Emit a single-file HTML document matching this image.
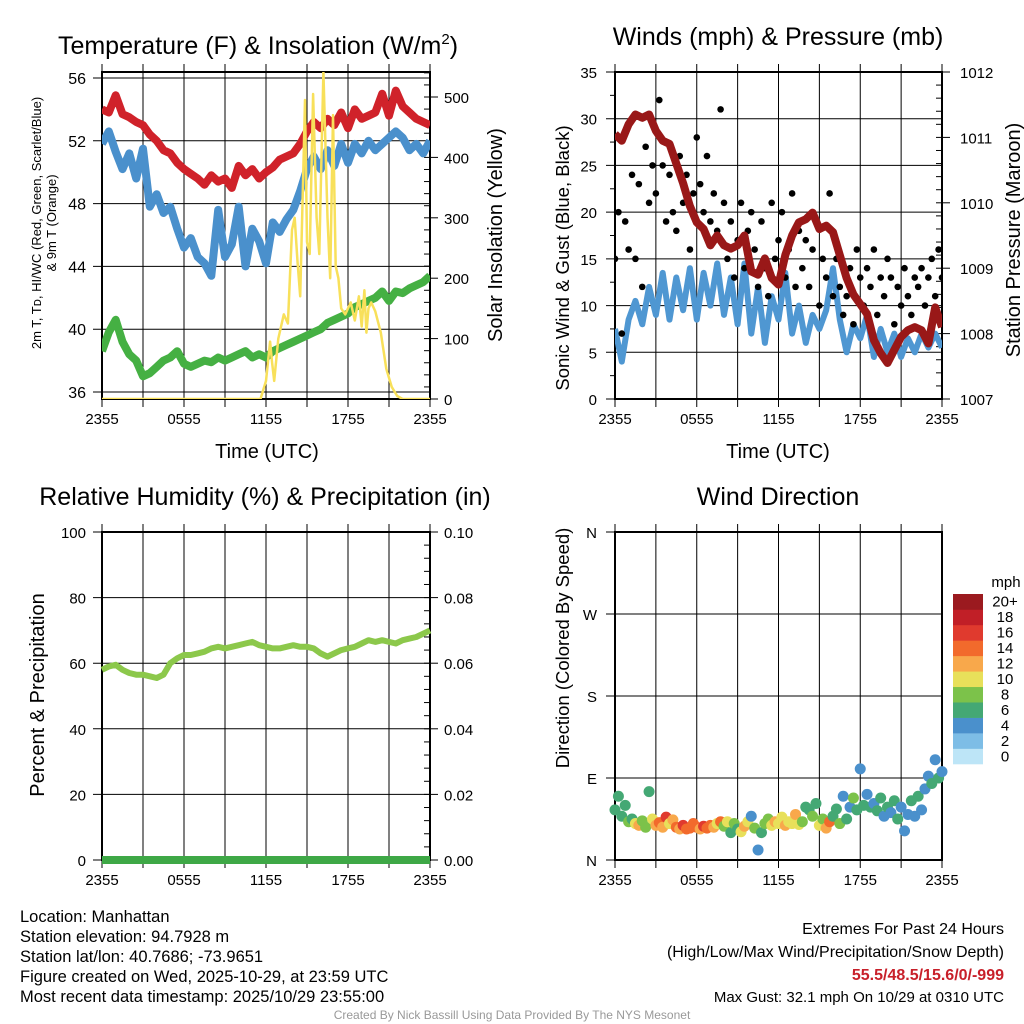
<!DOCTYPE html>
<html><head><meta charset="utf-8"><style>
html,body{margin:0;padding:0;background:#fff;}
svg{display:block;font-family:"Liberation Sans",sans-serif;}
</style></head><body>
<svg id="s" width="1024" height="1024" viewBox="0 0 1024 1024"></svg>
<script>
// ---------- DATA ----------
const xTickLabels = ["2355","0555","1155","1755","2355"];
const hours30 = Array.from({length:49},(_,i)=>i*0.5);
const tempRed = [54.0,53.8,54.9,53.7,53.5,53.2,53.0,52.4,52.0,51.4,51.2,50.6,50.2,49.9,49.6,49.2,49.8,49.4,49.6,49.0,50.4,49.8,50.2,49.6,50.0,50.3,50.8,51.0,51.2,51.8,52.6,53.2,52.8,53.4,53.0,53.8,52.8,54.0,53.4,53.6,53.8,55.0,53.6,55.2,54.2,53.8,53.4,53.2,53.0];
const heatBlue = [51.8,52.6,51.3,50.2,51.2,49.6,51.5,47.8,48.6,47.4,47.8,46.4,45.2,45.8,44.6,44.2,43.4,47.6,44.6,45.4,47.8,44.0,46.4,45.6,44.2,46.8,46.2,47.0,47.6,48.8,50.2,51.0,50.2,51.4,50.4,51.8,50.6,51.8,51.2,52.0,51.4,51.8,52.2,52.6,52.2,51.4,51.8,51.2,52.0];
const dewGreen = [38.6,39.8,40.6,39.2,38.4,38.0,37.0,37.2,37.6,38.0,38.2,38.6,37.8,37.6,37.8,38.0,37.9,38.2,38.0,38.2,38.4,38.6,38.2,38.4,38.2,38.6,38.8,39.0,39.2,39.4,39.6,39.8,40.0,40.4,40.6,40.8,41.0,41.4,41.6,41.8,42.0,42.4,41.8,42.4,42.3,42.6,42.8,43.0,43.4];
const solarT = [0,11,11.6,12,12.3,12.45,12.6,12.9,13.3,13.6,13.9,14.1,14.3,14.5,14.7,14.85,15.0,15.2,15.45,15.7,15.9,16.2,16.5,16.7,16.9,17.1,17.3,17.5,17.8,18.2,18.5,18.8,19.0,19.2,19.35,19.5,19.7,20.0,20.4,20.8,21.2,21.6,22,24];
const solarW = [0,0,0,30,95,60,30,100,140,125,280,300,230,170,350,495,260,240,505,300,240,542,300,200,470,220,200,150,140,160,130,170,120,180,110,150,160,145,110,50,20,5,0,0];
const tempTicks = [36,40,44,48,52,56];
const solarTicks = [0,100,200,300,400,500];

const windSpeed = [7.5,4.0,8.5,10.5,8.0,12.0,9.0,13.5,8.5,13.0,9.5,14.0,8.5,13.5,10.0,14.5,9.0,13.0,8.0,14.5,7.0,12.0,6.0,11.0,8.5,13.5,7.0,10.0,6.0,9.0,7.5,9.5,14.0,8.5,5.0,8.0,6.5,9.0,4.5,7.5,5.0,7.0,4.5,6.5,5.0,7.0,5.5,7.0,5.5];
const hours15 = Array.from({length:97},(_,i)=>i*0.25);
const gust = [15,20,7,19,16,24,15,23,12,
 27,21,25,22,32,25,19,24,
 20,18,26,21,24,16,22,28,
 23,20,26,19,22,18,31,21,
 15,19,13,17,21,14,18,20,
 16,12,19,14,11,21,15,17,
 20,13,16,22,12,18,14,17,
 12,16,19,10,15,13,22,11,
 15,12,9,11,14,8,16,13,
 10,14,12,16,9,13,11,15,
 13,8,12,10,14,11,9,13,
 12,14,10,13,15,11,16,13];
const pressure = [1011.05,1010.95,1011.2,1011.35,1011.3,1011.35,1011.1,1010.95,1010.9,1010.6,1010.3,1009.95,1009.7,1009.6,1009.35,1009.5,1009.35,1009.3,1009.35,1009.5,1008.95,1008.9,1009.15,1008.85,1008.75,1009.2,1009.5,1009.7,1009.75,1009.85,1009.6,1009.65,1009.55,1009.2,1008.85,1008.6,1008.45,1008.3,1007.9,1007.7,1007.55,1007.75,1007.95,1008.05,1008.1,1008.05,1007.85,1008.4,1008.1];
const windTicks = [0,5,10,15,20,25,30,35];
const presTicks = [1007,1008,1009,1010,1011,1012];

const humidity = [58,59,59.5,58,57,56.5,56.5,56,55.5,56.5,60,61.5,62.5,62.5,63,63.5,64.5,65,64.5,65,65.5,66,66.5,65.5,65,64.5,64.5,65,65.5,65,65,64.5,63,62,63,64,64.5,65,66,67,66.5,67,66.5,66,67,67.5,68,69,70];
const precip = Array.from({length:49},()=>0);
const rhTicks = [0,20,40,60,80,100];
const precipTicks = ["0.00","0.02","0.04","0.06","0.08","0.10"];

const windDir = [55,70,48,60,42,45,40,38,43,36,75,45,38,41,36,47,40,44,36,34,38,34,35,40,36,34,37,35,38,36,40,42,37,42,30,40,34,31,37,42,48,35,11,30,40,45,38,42,40,47,38,42,40,50,39,42,58,55,48,62,38,45,35,42,48,56,40,70,45,58,68,55,100,60,72,58,62,54,68,48,58,52,65,45,58,32,50,65,48,70,55,78,92,84,110,90,97];
const dirSpeed = [6,6,7,6,8,7,10,12,8,9,6,10,12,14,12,16,
 10,12,14,13,16,14,14,15,14,12,16,15,14,12,10,14,
 8,10,6,8,7,10,12,10,4,8,4,6,8,9,10,12,
 10,11,12,10,11,12,10,8,6,7,8,6,10,8,12,14,
 7,6,8,4,6,5,8,6,4,7,5,6,4,7,6,5,
 6,4,6,7,4,4,5,6,4,6,4,5,4,6,4,6,5];
const dirTicks = ["N","E","S","W","N"];
const speedBins = ["0","2","4","6","8","10","12","14","16","18","20+"];
const speedColors = ["#bde5f7","#7dbde6","#4a90cc","#44a874","#7cc24a","#e8e05a","#f8a84b","#f26a2c","#e03a2e","#c11f27","#9b1a1f"];

// ---------- HELPERS ----------
const NS="http://www.w3.org/2000/svg";
const svg=document.getElementById('s');
function mk(tag,attrs,parent){const e=document.createElementNS(NS,tag);for(const k in attrs)e.setAttribute(k,attrs[k]);(parent||svg).appendChild(e);return e;}
function txt(str,x,y,size,anchor,parent,extra){const t=mk('text',Object.assign({x:x,y:y,'font-size':size,'text-anchor':anchor||'middle',fill:'#000'},extra||{}),parent);t.textContent=str;return t;}
function lin(d0,d1,r0,r1){return v=>r0+(v-d0)*(r1-r0)/(d1-d0);}
function pathFrom(xs,ys,sx,sy){let d='';for(let i=0;i<Math.min(xs.length,ys.length);i++){d+=(i?'L':'M')+sx(xs[i]).toFixed(1)+','+sy(ys[i]).toFixed(1);}return d;}

function panel(name){
  const g=mk('g',{},svg);
  
  
  return g;
}
function frame(g,L,R,T,B,sx,hLines,rightMinor){
  for(let h=3;h<24;h+=3){const x=sx(h);const l=mk('line',{x1:x,x2:x,y1:T,y2:B,stroke:'#000','stroke-width':1},g);
    }
  hLines.forEach(y=>{const l=mk('line',{x1:L-9,x2:R,y1:y,y2:y,stroke:'#000','stroke-width':1},g);
    });
  for(let h=0;h<=24;h+=3){mk('line',{x1:sx(h),x2:sx(h),y1:B,y2:B+8,stroke:'#000','stroke-width':1},g);
    mk('line',{x1:sx(h),x2:sx(h),y1:T,y2:T-8,stroke:'#000','stroke-width':1},g);}
  xTickLabels.forEach((s,i)=>{const t=txt(s,sx(i*6),B+25,15,'middle',g);
    });
  rightMinor.forEach(y=>mk('line',{x1:R-6,x2:R,y1:y,y2:y,stroke:'#000','stroke-width':1},g));
  const f=mk('rect',{x:L,y:T,width:R-L,height:B-T,fill:'none',stroke:'#000','stroke-width':2},g);
  
}
function vtext(g,str,x,y,size,name){const t=mk('text',{transform:'translate('+x+','+y+') rotate(-90)','font-size':size,'text-anchor':'middle'},g);
  t.textContent=str;return t;}

// ---------- PANEL 1 ----------
(function(){
  const L=102,R=430,T=72,B=399;
  const g=panel('temperature-panel');
  const sx=lin(0,24,L,R), sy=lin(36,56,392,78), sw=lin(0,500,399,97);
  const minor=[];for(let w=0;w<=540;w+=20)minor.push(sw(w));
  frame(g,L,R,T,B,sx,tempTicks.map(sy),minor);
  tempTicks.forEach(v=>{const t=txt(String(v),86,sy(v)+6,16,'end',g);});
  solarTicks.forEach(v=>{mk('line',{x1:R,x2:R+8,y1:sw(v),y2:sw(v),stroke:'#000'},g);
    const t=txt(String(v),444,sw(v)+6,15,'start',g);});
  const cp=mk('clipPath',{id:'c1'},g);mk('rect',{x:L,y:T,width:R-L,height:B-T},cp);
  const s1=mk('path',{d:pathFrom(hours30,dewGreen,sx,sy),fill:'none',stroke:'#45b043','stroke-width':8,'stroke-linejoin':'round','clip-path':'url(#c1)'},g);
  
  const s2=mk('path',{d:pathFrom(hours30,heatBlue,sx,sy),fill:'none',stroke:'#4a90cc','stroke-width':8,'stroke-linejoin':'round','clip-path':'url(#c1)'},g);
  
  const s3=mk('path',{d:pathFrom(hours30,tempRed,sx,sy),fill:'none',stroke:'#d0222a','stroke-width':8,'stroke-linejoin':'round','clip-path':'url(#c1)'},g);
  
  const s4=mk('path',{d:pathFrom(solarT,solarW,sx,sw),fill:'none',stroke:'#f8e05a','stroke-width':2.5,'stroke-linejoin':'round','clip-path':'url(#c1)'},g);
  
  const ti=txt('Temperature (F) & Insolation (W/m',258,54,25,'middle',g);
  const sup=mk('tspan',{dy:-10,'font-size':15},ti);sup.textContent='2';
  const cl=mk('tspan',{dy:10},ti);cl.textContent=')';
  
  const xt=txt('Time (UTC)',267,458,20,'middle',g);
  vtext(g,'2m T, T\u1d05, HI/WC (Red, Green, Scarlet/Blue)',41,223,13,'temp-y-axis-title');
  vtext(g,'& 9m T (Orange)',56,223,13,'temp-y-axis-title-2');
  vtext(g,'Solar Insolation (Yellow)',502,235,20,'solar-y-axis-title');
})();

// ---------- PANEL 2 ----------
(function(){
  const L=615,R=942,T=72,B=399;
  const g=panel('winds-panel');
  const sx=lin(0,24,L,R), sy=lin(0,35,399,72), sp=lin(1007,1012,399,72);
  const minor=[];for(let p=1007;p<=1012.01;p+=0.2)minor.push(sp(p));
  frame(g,L,R,T,B,sx,windTicks.map(sy),minor);
  windTicks.forEach(v=>{const t=txt(String(v),597,sy(v)+6,15,'end',g);});
  for(let v=2.5;v<35;v+=5)mk('line',{x1:L-5,x2:L,y1:sy(v),y2:sy(v),stroke:'#000'},g);
  presTicks.forEach(v=>{mk('line',{x1:R,x2:R+8,y1:sp(v),y2:sp(v),stroke:'#000'},g);
    const t=txt(String(v),960,sp(v)+6,15,'start',g);});
  const cp=mk('clipPath',{id:'c2'},g);mk('rect',{x:L,y:T,width:R-L,height:B-T},cp);
  const w=mk('path',{d:pathFrom(hours30,windSpeed,sx,sy),fill:'none',stroke:'#4f97d2','stroke-width':6,'stroke-linejoin':'round','clip-path':'url(#c2)'},g);
  
  for(let i=0;i<Math.min(hours15.length,gust.length);i++){
    const c=mk('circle',{cx:sx(hours15[i]),cy:sy(gust[i]),r:3.3,fill:'#000','clip-path':'url(#c2)'},g);
    
    
  }
  const p=mk('path',{d:pathFrom(hours30,pressure,sx,sp),fill:'none',stroke:'#991818','stroke-width':8,'stroke-linejoin':'round','clip-path':'url(#c2)'},g);
  
  const ti=txt('Winds (mph) & Pressure (mb)',778,45,25,'middle',g);
  const xt=txt('Time (UTC)',778,458,20,'middle',g);
  vtext(g,'Sonic Wind & Gust (Blue, Black)',569,258,18.5,'wind-y-axis-title');
  vtext(g,'Station Pressure (Maroon)',1020,240,20,'pressure-y-axis-title');
})();

// ---------- PANEL 3 ----------
(function(){
  const L=102,R=430,T=532,B=860;
  const g=panel('humidity-panel');
  const sx=lin(0,24,L,R), sy=lin(0,100,860,532), spc=lin(0,0.1,860,532);
  const minor=[];for(let v=0;v<=100;v+=4)minor.push(sy(v));
  frame(g,L,R,T,B,sx,rhTicks.map(sy),minor);
  rhTicks.forEach(v=>{const t=txt(String(v),86,sy(v)+6,15,'end',g);});
  precipTicks.forEach((s,i)=>{const y=sy(i*20);mk('line',{x1:R,x2:R+8,y1:y,y2:y,stroke:'#000'},g);
    const t=txt(s,444,y+6,15,'start',g);});
  const pr=mk('path',{d:pathFrom(hours30,precip,sx,spc),fill:'none',stroke:'#3ea846','stroke-width':8},g);
  
  const rh=mk('path',{d:pathFrom(hours30,humidity,sx,sy),fill:'none',stroke:'#8cc84b','stroke-width':6,'stroke-linejoin':'round'},g);
  
  const ti=txt('Relative Humidity (%) & Precipitation (in)',265,505,25,'middle',g);
  vtext(g,'Percent & Precipitation',44,695,20,'humidity-y-axis-title');
})();

// ---------- PANEL 4 ----------
(function(){
  const L=615,R=942,T=532,B=860;
  const g=panel('wind-direction-panel');
  const sx=lin(0,24,L,R), sy=lin(0,360,860,532);
  frame(g,L,R,T,B,sx,[0,90,180,270,360].map(sy),[]);
  dirTicks.forEach((s,i)=>{const t=txt(s,597,sy(i*90)+6,15,'end',g);});
  for(let i=0;i<Math.min(hours15.length,windDir.length,dirSpeed.length);i++){
    const k=Math.min(10,Math.floor(dirSpeed[i]/2));
    const c=mk('circle',{cx:sx(hours15[i]),cy:sy(windDir[i]),r:5.5,fill:speedColors[k]},g);
    
    
  }
  const ti=txt('Wind Direction',778,505,25,'middle',g);
  vtext(g,'Direction (Colored By Speed)',569,648,18.5,'direction-y-axis-title');
  const lg=mk('g',{},g);
  const bh=170/11;
  speedBins.forEach((s,i)=>{const y=594+(10-i)*bh;
    mk('rect',{x:953,y:y,width:30,height:bh+0.3,fill:speedColors[i]},lg);
    const t=txt(s,1005,y+bh/2+5,15,'middle',lg);});
  const u=txt('mph',1006,587,15,'middle',lg);
})();

// ---------- FOOTER ----------
(function(){
  const g=mk('g',{},svg);
  ["Location: Manhattan","Station elevation: 94.7928 m","Station lat/lon: 40.7686; -73.9651","Figure created on Wed, 2025-10-29, at 23:59 UTC","Most recent data timestamp: 2025/10/29 23:55:00"].forEach((s,i)=>txt(s,20,922+i*20,16.5,'start',g));
  const e=mk('g',{},svg);
  txt('Extremes For Past 24 Hours',1004,934,16,'end',e);
  txt('(High/Low/Max Wind/Precipitation/Snow Depth)',1004,957,16,'end',e);
  txt('55.5/48.5/15.6/0/-999',1004,980,16,'end',e,{fill:'#c8202a','font-weight':'bold'});
  txt('Max Gust: 32.1 mph On 10/29 at 0310 UTC',1004,1002,15,'end',e);
  const c=txt('Created By Nick Bassill Using Data Provided By The NYS Mesonet',512,1019,12,'middle',svg,{fill:'#999'});
  
})();
</script>
</body></html>
